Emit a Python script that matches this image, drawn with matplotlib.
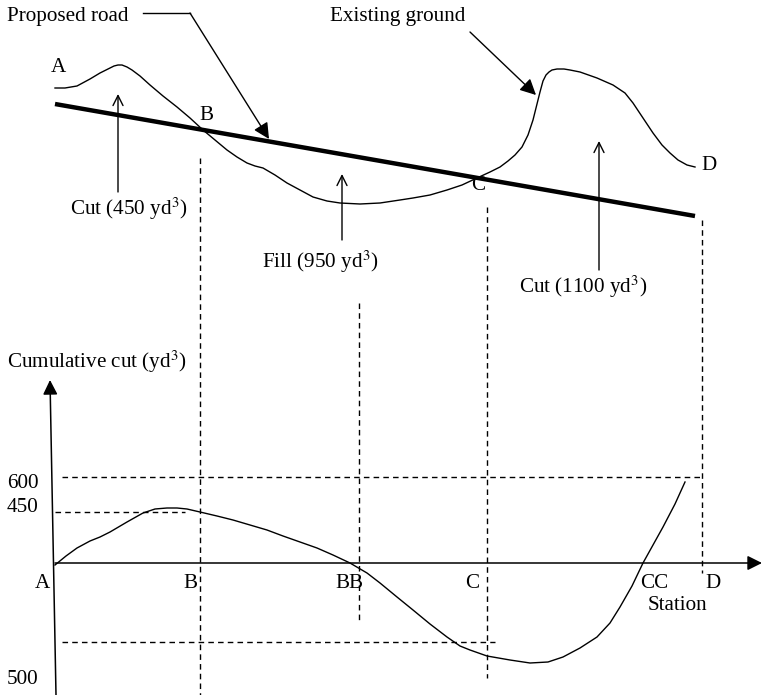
import matplotlib
matplotlib.use("Agg")
import matplotlib.pyplot as plt

plt.rcParams["font.family"] = ["Liberation Serif", "DejaVu Serif"]
plt.rcParams["mathtext.fontset"] = "stix"

# ── Profile (top panel), pixel coordinates of the sketch ──────────────────
road_x = [55, 695]
road_y = [104, 216]

ground_x = [55, 65, 77, 90, 100, 108, 114, 118, 122, 127, 132, 140, 150, 163,
            177, 190, 203, 215, 227, 237, 247, 255, 263, 275, 287, 300, 313,
            327, 340, 360, 380, 400, 413, 430, 447, 462, 477, 490, 500, 508,
            515, 522, 528, 533, 537, 540, 543, 546, 549, 552, 557, 564, 570,
            580, 597, 613, 625, 633, 643, 653, 662, 670, 678, 687, 695]
ground_y = [88, 88, 86, 79, 73, 69, 66, 65, 65, 67, 70, 76, 85, 96,
            107, 118, 130, 140, 150, 157, 163, 166, 168, 175, 183, 190, 197,
            201, 203, 204, 203, 200, 198, 195, 190, 185, 178, 172, 167, 161,
            155, 147, 135, 120, 104, 92, 81, 75, 72, 70, 69, 69, 70,
            72, 78, 85, 93, 103, 118, 133, 145, 153, 160, 165, 167]

# ── Mass diagram (bottom panel) ───────────────────────────────────────────
mass_x = [55, 66, 77, 90, 100, 110, 127, 143, 155, 167, 177, 187, 200, 217,
          233, 250, 267, 283, 300, 317, 333, 350, 367, 380, 397, 413, 430,
          447, 460, 470, 487, 510, 530, 548, 563, 580, 597, 610, 620, 632,
          643, 653, 663, 675, 685]
mass_y = [565, 556, 548, 541, 537, 532, 522, 513, 509, 508, 508, 509, 512, 516,
          520, 525, 530, 536, 542, 548, 555, 563, 573, 583, 597, 610, 624,
          637, 646, 650, 656, 660, 663, 662, 657, 648, 637, 623, 607, 586,
          563, 545, 527, 504, 482]

point_labels = ["A", "B", "C", "D"]
volume_labels = [r"Cut (450 yd$^{3}$)", r"Fill (950 yd$^{3}$)", r"Cut (1100 yd$^{3}$)"]
station_labels = ["A", "B", "BB", "C", "CC", "D"]
tick_values = ["600", "450", "500"]

FS = 15.2

fig = plt.figure(figsize=(7.62, 6.95), dpi=100)
ax = fig.add_axes([0, 0, 1, 1])
ax.set_xlim(0, 762)
ax.set_ylim(695, 0)
ax.axis("off")

# road and ground
ax.plot(road_x, road_y, color="black", lw=3.2, solid_capstyle="butt")
ax.plot(ground_x, ground_y, color="black", lw=1.0, solid_joinstyle="round")

# point labels on the profile
for lab, (px, py, ha) in zip(point_labels, [(58, 67, "center"), (206, 115, "center"),
                                           (478, 186, "center"), (701, 166, "left")]):
    ax.text(px, py, lab, fontsize=FS, ha=ha, va="center")

# leader for "Proposed road"
ax.text(7, 16, "Proposed road", fontsize=FS, ha="left", va="center")
ax.plot([143, 190], [13, 13], color="black", lw=1.0)
ax.annotate("", xy=(269, 139), xytext=(190, 13),
            arrowprops=dict(arrowstyle="-|>", color="black", lw=1.0,
                            mutation_scale=24, shrinkA=0, shrinkB=0))

# leader for "Existing ground"
ax.text(330, 16, "Existing ground", fontsize=FS, ha="left", va="center")
ax.annotate("", xy=(536, 95), xytext=(470, 32),
            arrowprops=dict(arrowstyle="-|>", color="black", lw=1.0,
                            mutation_scale=24, shrinkA=0, shrinkB=0))

# volume arrows with labels
vol_pos = [(118, 192, 94, 129, 209), (342, 240, 174, 320, 262), (599, 270, 141, 583, 287)]
for lab, (vx, y0, y1, tx, ty) in zip(volume_labels, vol_pos):
    ax.annotate("", xy=(vx, y1), xytext=(vx, y0),
                arrowprops=dict(arrowstyle="->", color="black", lw=1.0,
                                mutation_scale=18, shrinkA=0, shrinkB=0))
    ax.text(tx, ty, lab, fontsize=FS, ha="center", va="center")

# vertical dashed guides
dash = dict(color="black", lw=1.0, ls=(0, (4, 3)))
ax.plot([200, 200], [158, 695], **dash)
ax.plot([359, 359], [303, 623], **dash)
ax.plot([487, 487], [207, 678], **dash)
ax.plot([702, 702], [220, 573], **dash)

# horizontal dashed guides
ax.plot([62, 702], [477, 477], **dash)
ax.plot([55, 185], [512, 512], **dash)
ax.plot([62, 495], [642, 642], **dash)

# axes of the mass diagram
ax.annotate("", xy=(50, 380), xytext=(56, 695),
            arrowprops=dict(arrowstyle="-|>", color="black", lw=1.1,
                            mutation_scale=22, shrinkA=0, shrinkB=0))
ax.annotate("", xy=(762, 563), xytext=(55, 563),
            arrowprops=dict(arrowstyle="-|>", color="black", lw=1.1,
                            mutation_scale=22, shrinkA=0, shrinkB=0))

ax.plot(mass_x, mass_y, color="black", lw=1.0, solid_joinstyle="round")

ax.text(7, 362, r"Cumulative cut (yd$^{3}$)", fontsize=FS, ha="left", va="center")
for lab, ty in zip(tick_values, [483, 508, 680]):
    ax.text(7, ty, lab, fontsize=FS, ha="left", va="center")

station_x = [42, 190, 349, 472, 654, 713]
for lab, sx in zip(station_labels, station_x):
    ax.text(sx, 583, lab, fontsize=FS, ha="center", va="center")
ax.text(677, 606, "Station", fontsize=FS, ha="center", va="center")

fig.savefig("out.png", dpi=100)
